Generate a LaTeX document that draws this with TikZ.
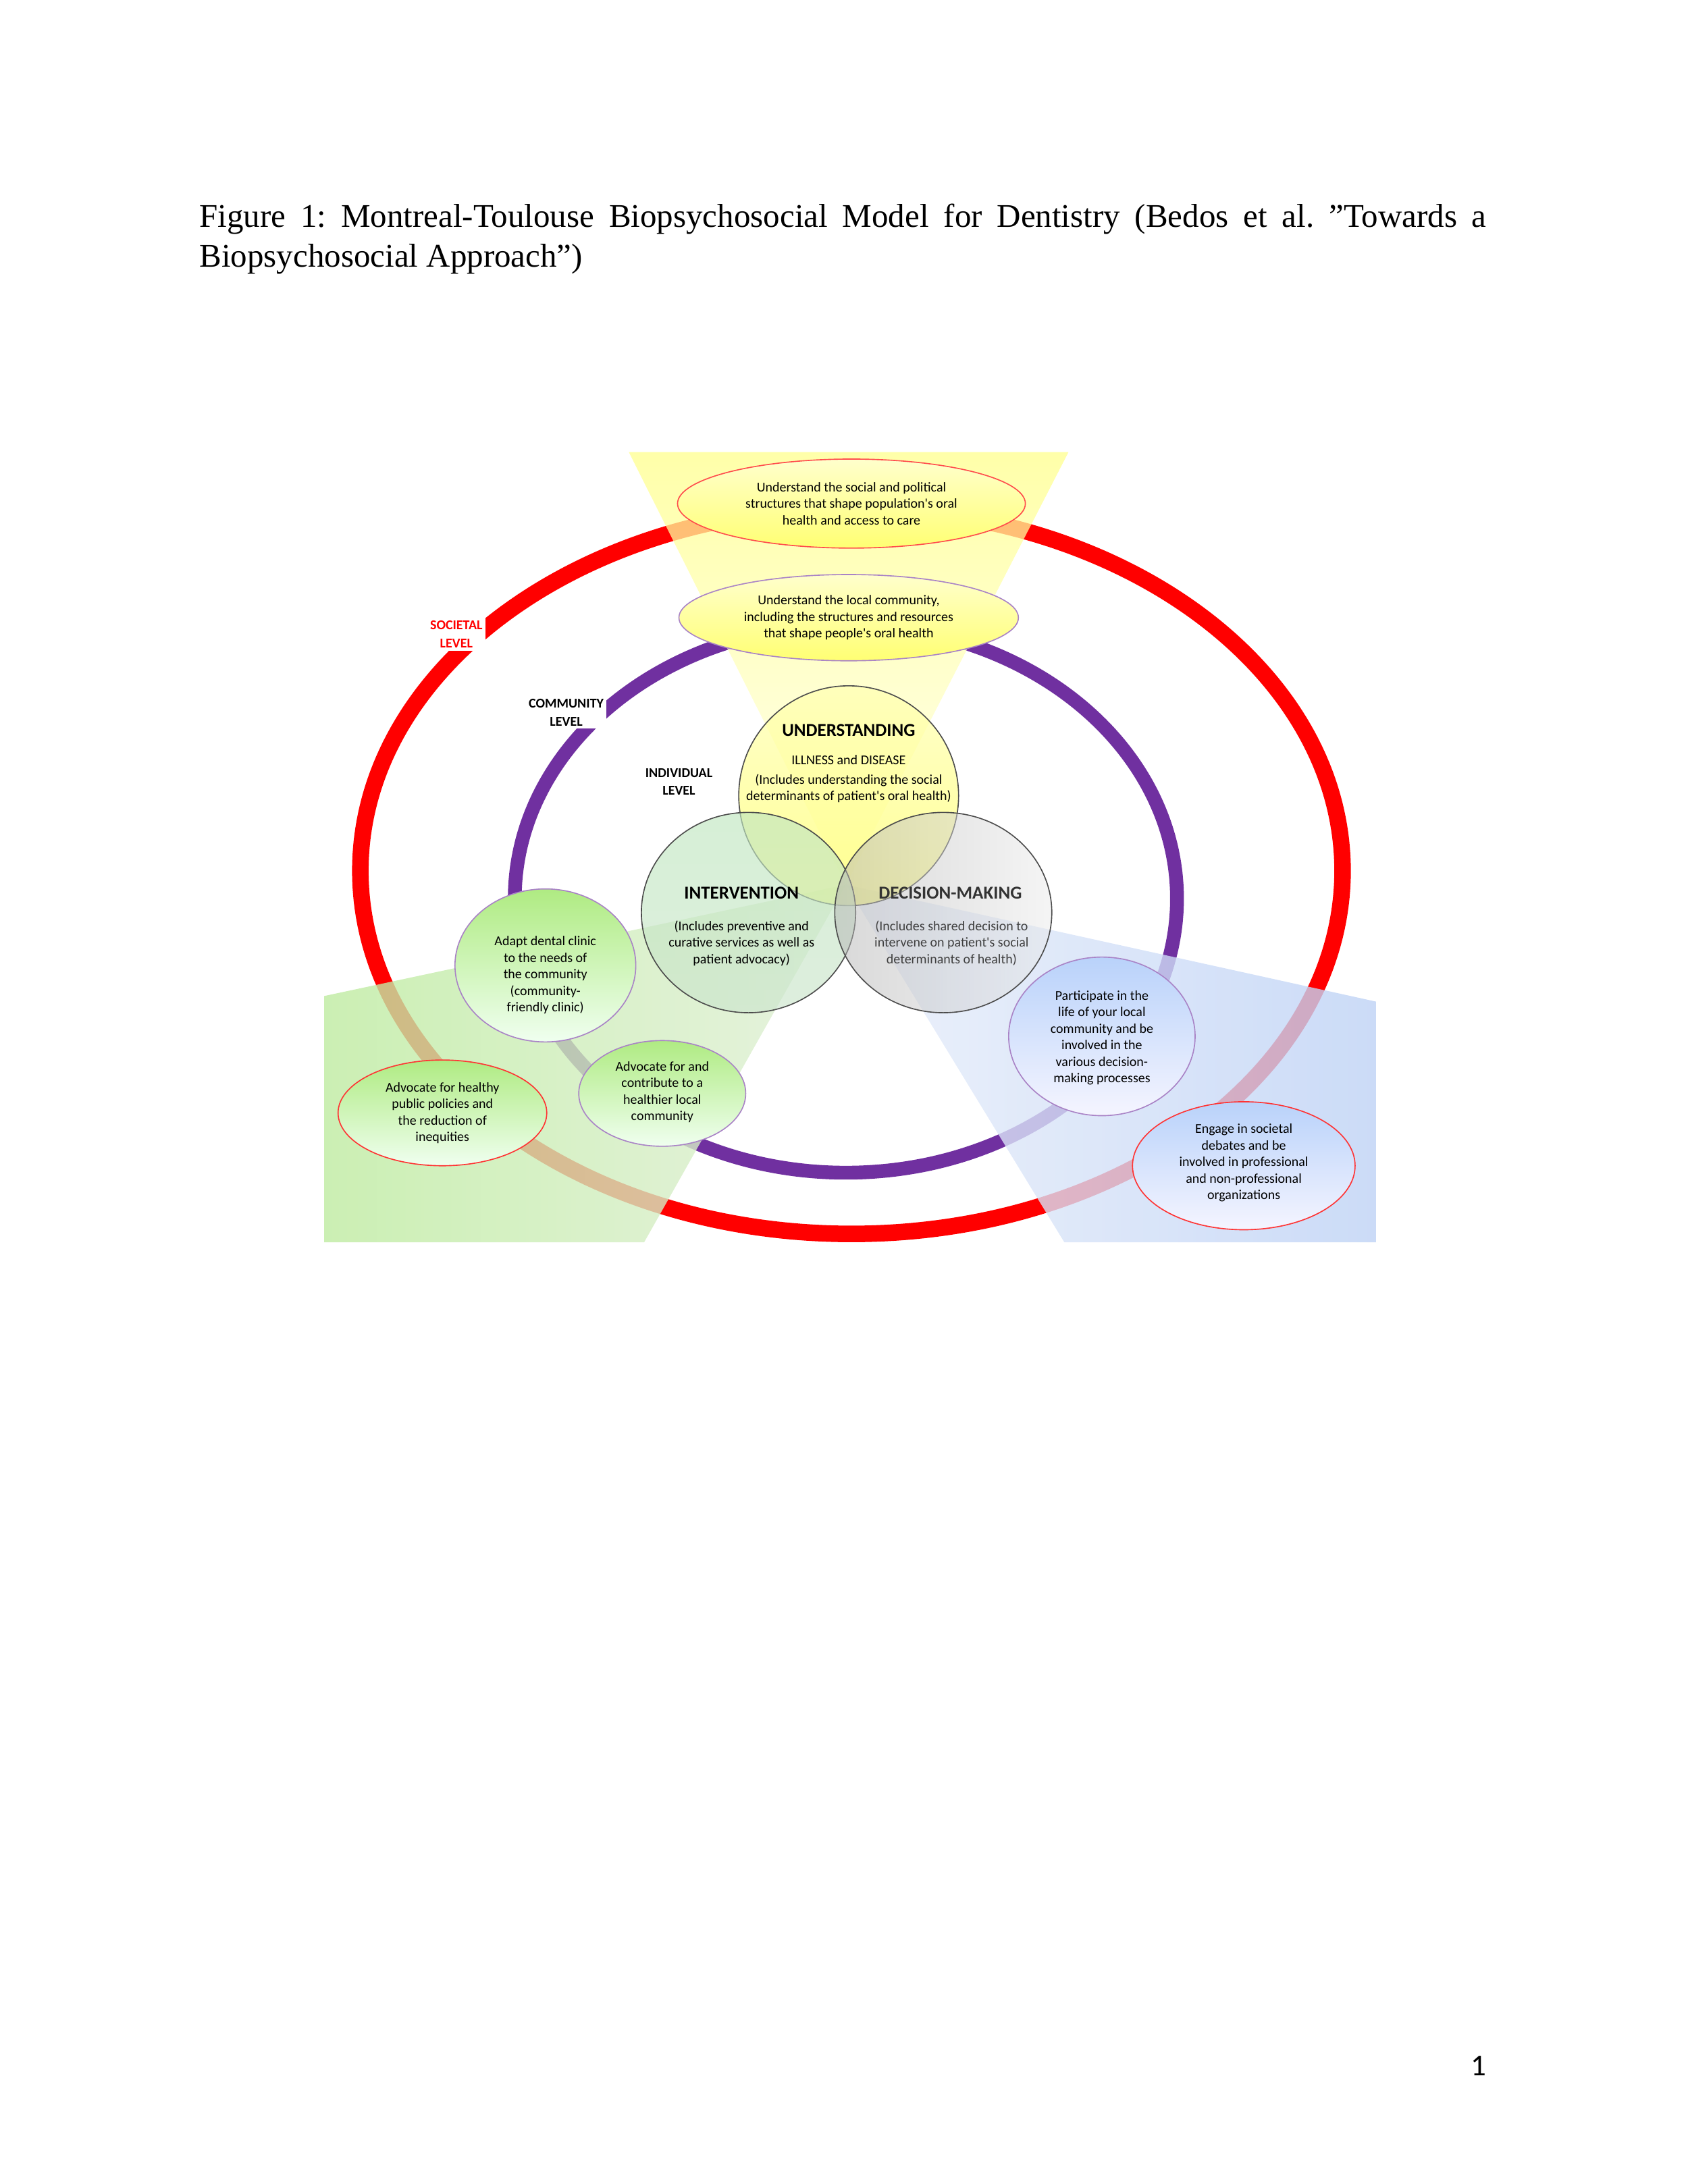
\documentclass[tikz,border=0pt]{standalone}
\usepackage{fontspec}
\setmainfont{Liberation Serif}
\newfontfamily\carfont{Carlito}
\definecolor{ringpurple}{RGB}{112,48,160}
\definecolor{lightblue}{RGB}{190,210,245}
\definecolor{paleblue}{RGB}{232,238,250}
\definecolor{lgreen}{RGB}{190,235,160}
\definecolor{pgreen}{RGB}{225,240,215}
\definecolor{nodeblue}{RGB}{185,210,250}
\definecolor{nodegreen}{RGB}{175,235,130}
\begin{document}
\frenchspacing
\begin{tikzpicture}[x=0.5045pt,y=-0.5045pt,
  lbl/.style={font=\carfont\fontsize{4.9}{6}\selectfont,align=center,inner sep=0},
  hd/.style={font=\carfont\bfseries\fontsize{6.6}{8}\selectfont,inner sep=0},
  lev/.style={font=\carfont\bfseries\fontsize{4.9}{6.6}\selectfont,align=center,fill=white,inner sep=1pt}]
\useasboundingbox (0,0) rectangle (1213,1570);
\node[anchor=north west,text width=466.7pt,align=justify,inner sep=0,font=\fontsize{12}{14.6}\selectfont] (cap) at (143,146)
 {Figure 1: Montreal-Toulouse Biopsychosocial Model for Dentistry (Bedos et al. \symbol{34}Towards a Biopsychosocial Approach\symbol{34})};
\node[font=\carfont\fontsize{11}{13}\selectfont] (pg) at (1063,1485) {1};
% rings
\draw[red,line width=6pt] (612,626) ellipse [x radius=353,y radius=261];
\draw[ringpurple,line width=5pt] (608,646) ellipse [x radius=238,y radius=197];
% wedges
\shade[top color=yellow!45,bottom color=yellow!8,fill opacity=0.75] (452,325) -- (768,325) -- (608,636) -- cycle;
\shade[left color=lgreen,right color=pgreen,fill opacity=0.8] (608,636) -- (233,716) -- (233,893) -- (463,893) -- cycle;
\shade[left color=paleblue,right color=lightblue,fill opacity=0.8] (608,636) -- (989,720) -- (989,893) -- (765,893) -- cycle;
% outer/community ellipses
\shade[top color=yellow!20,bottom color=yellow!55,draw=red!70,thin] (612,362) ellipse [x radius=125,y radius=32];
\shade[top color=yellow!20,bottom color=yellow!55,draw=ringpurple!60,thin] (610,444) ellipse [x radius=122,y radius=31];
\node[lbl] (soc) at (612,362) {Understand the social and political\\structures that shape population's oral\\health and access to care};
\node[lbl] (com) at (610,444) {Understand the local community,\\including the structures and resources\\that shape people's oral health};
% core circles
\shade[top color=yellow!30,bottom color=yellow!60,draw=black!70,thin,fill opacity=0.7] (610,572) circle [radius=79];
\shade[top color=black!40!green!25,bottom color=black!50!green!20,draw=black!70,thin,fill opacity=0.65] (538,656) ellipse [x radius=77,y radius=72];
\shade[left color=black!30,right color=black!8,draw=black!70,thin,fill opacity=0.5] (678,656) ellipse [x radius=78,y radius=72];
\node[hd] (und) at (610,525) {UNDERSTANDING};
\node[lbl] (undt) at (610,560) {ILLNESS and DISEASE\\[1pt](Includes understanding the social\\determinants of patient's oral health)};
\node[hd] (int) at (533,642) {INTERVENTION};
\node[lbl] (intt) at (533,678) {(Includes preventive and\\curative services as well as\\patient advocacy)};
\node[hd,text=black!80] (dec) at (683,642) {DECISION-MAKING};
\node[lbl,text=black!75] (dect) at (684,678) {(Includes shared decision to\\intervene on patient's social\\determinants of health)};
% outer nodes
\shade[top color=nodegreen,bottom color=green!6,draw=ringpurple!60,thin] (392,694) ellipse [x radius=65,y radius=55];
\node[lbl] (adapt) at (392,701) {Adapt dental clinic\\to the needs of\\the community\\(community-\\friendly clinic)};
\shade[top color=nodegreen,bottom color=green!6,draw=ringpurple!60,thin] (476,786) ellipse [x radius=60,y radius=38];
\node[lbl] (adv) at (476,785) {Advocate for and\\contribute to a\\healthier local\\community};
\shade[top color=nodegreen,bottom color=green!6,draw=red!80,thin] (318,800) ellipse [x radius=75,y radius=38];
\node[lbl] (advh) at (318,800) {Advocate for healthy\\public policies and\\the reduction of\\inequities};
\shade[top color=nodeblue,bottom color=blue!4,draw=ringpurple!60,thin] (792,745) ellipse [x radius=67,y radius=57];
\node[lbl] (part) at (792,746) {Participate in the\\life of your local\\community and be\\involved in the\\various decision-\\making processes};
\shade[top color=nodeblue,bottom color=blue!4,draw=red!80,thin] (894,838) ellipse [x radius=80,y radius=46];
\node[lbl] (eng) at (894,836) {Engage in societal\\debates and be\\involved in professional\\and non-professional\\organizations};
% level labels
\node[lev,text=red] (sl) at (328,456) {SOCIETAL\\LEVEL};
\node[lev] (cl) at (407,512) {COMMUNITY\\LEVEL};
\node[lev] (il) at (488,562) {INDIVIDUAL\\LEVEL};
\end{tikzpicture}
\end{document}
